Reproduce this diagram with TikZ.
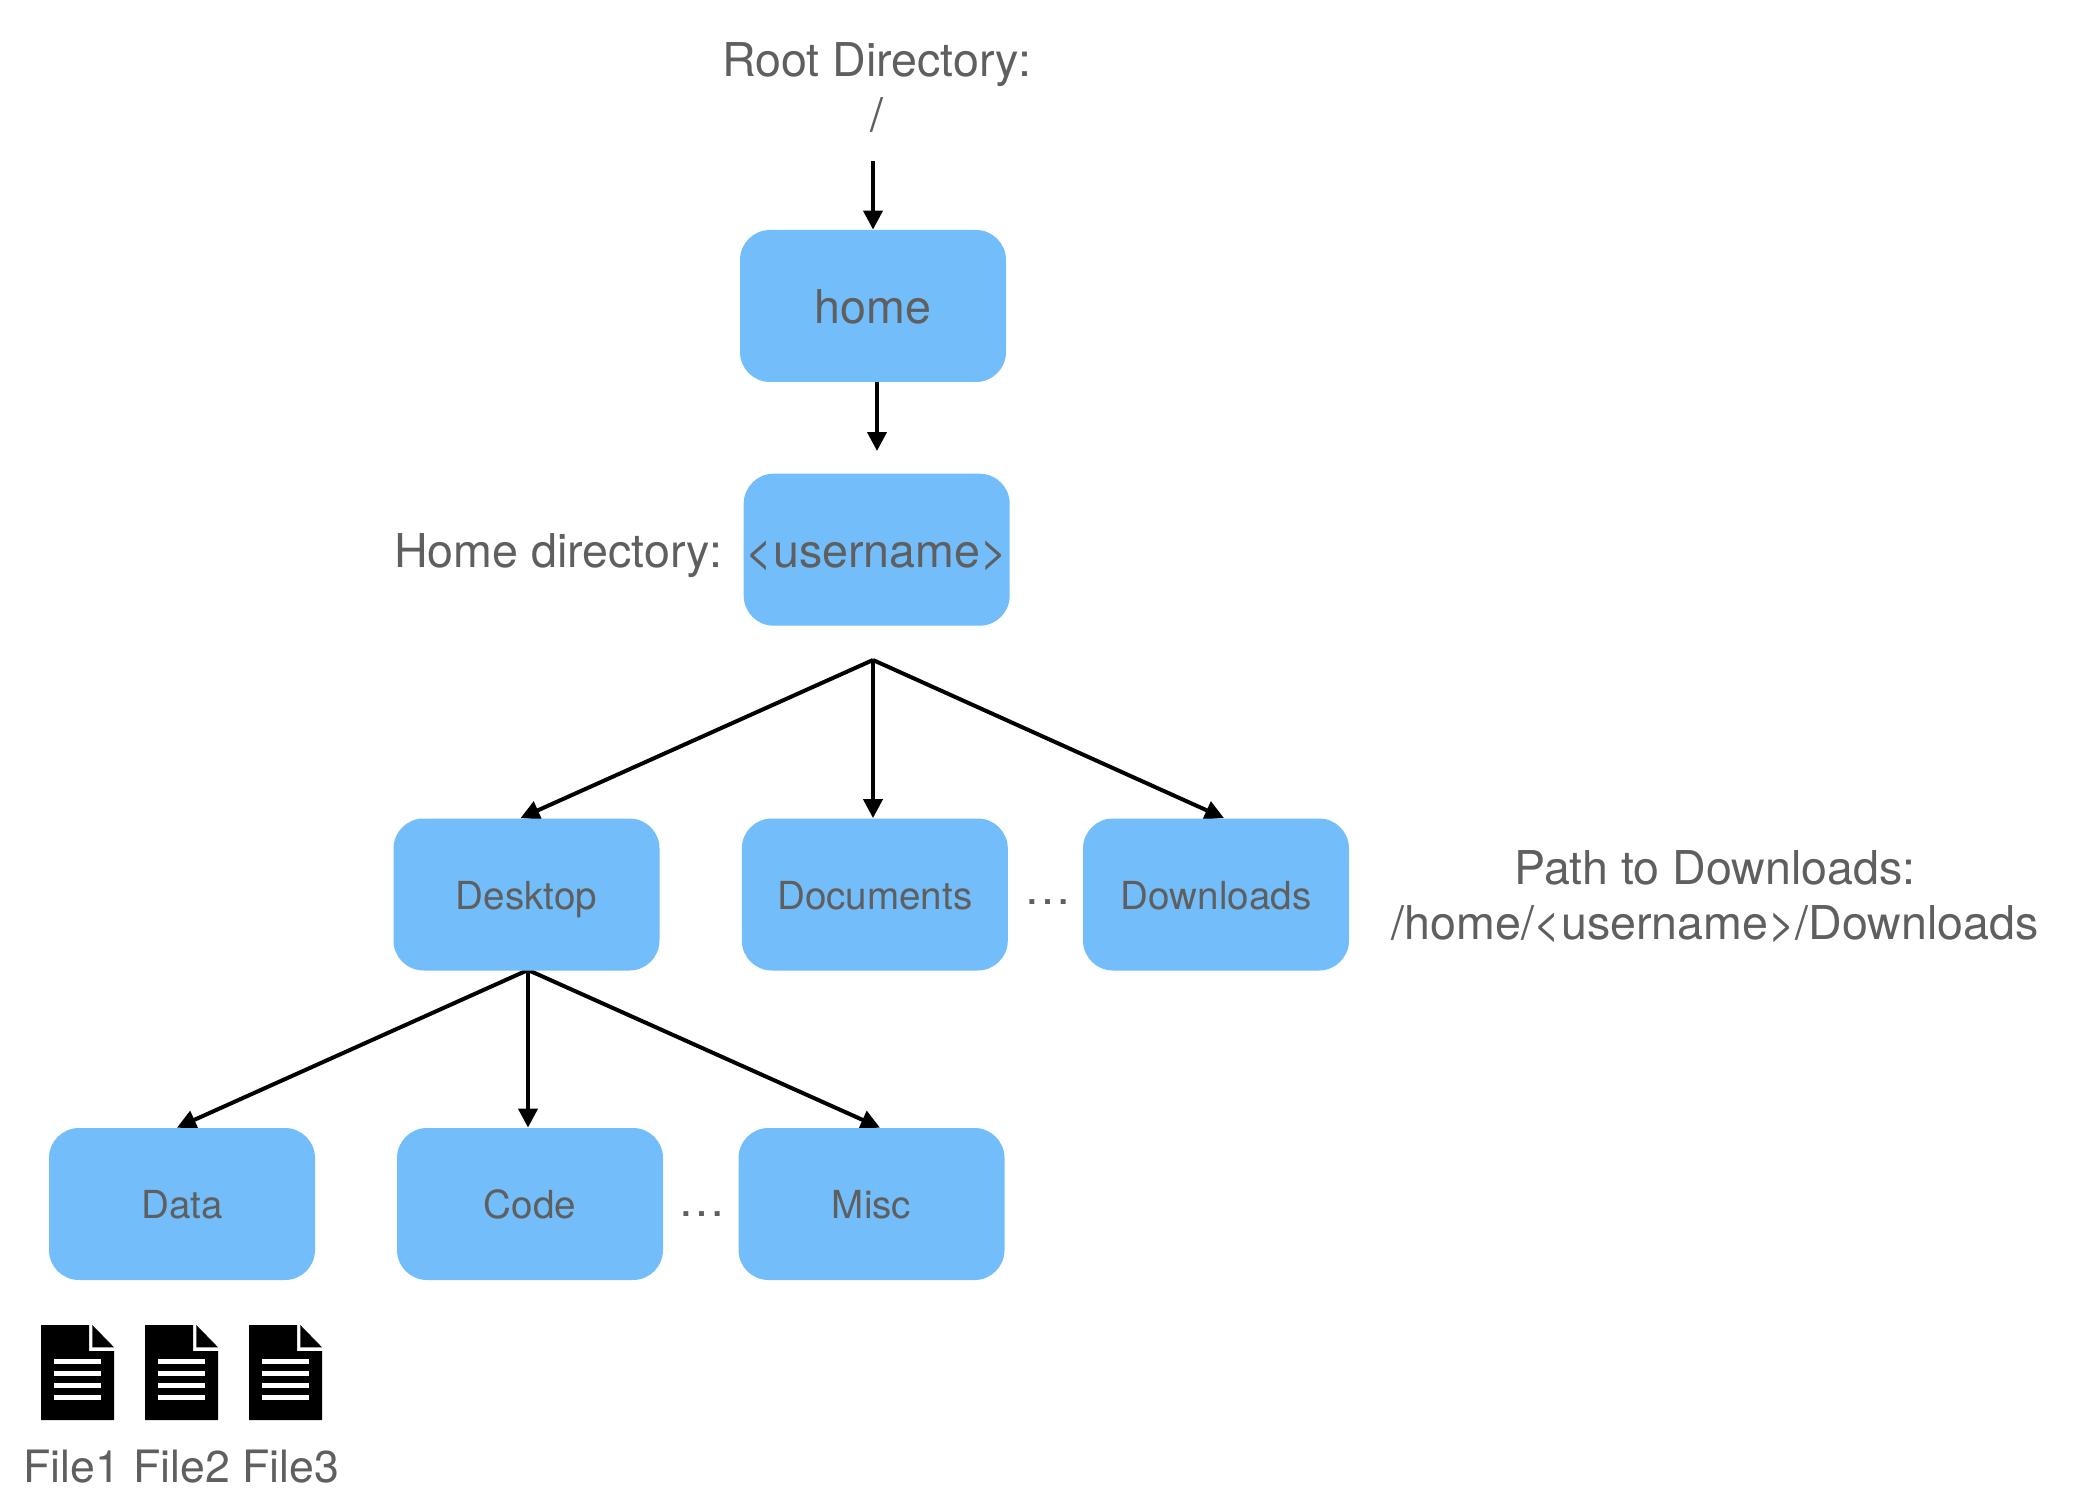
\documentclass[tikz,border=0pt]{standalone}
\usepackage{fontspec}
\setmainfont{TeX Gyre Heros}
\usetikzlibrary{arrows.meta,backgrounds}
\definecolor{boxblue}{HTML}{72BDFA}
\definecolor{labelgrey}{HTML}{5F5F5F}
\tikzset{
  x=0.5pt,y=-0.5pt,
  folder/.style={fill=boxblue,rounded corners=15pt,inner sep=0pt,minimum width=133pt,minimum height=76pt,text=labelgrey,align=center},
  bigfolder/.style={folder,font=\fontsize{23.3pt}{27pt}\selectfont,text height=18pt,text depth=0pt},
  smallfolder/.style={folder,font=\fontsize{19.3pt}{23pt}\selectfont,text height=14.8pt,text depth=0pt},
  label/.style={text=labelgrey,inner sep=0pt,anchor=base,font=\fontsize{23.3pt}{27pt}\selectfont},
  filelabel/.style={label,font=\fontsize{22.3pt}{27pt}\selectfont},
  dotsstyle/.style={label,font=\fontsize{23.5pt}{27pt}\selectfont},
  link/.style={draw=black,line width=2pt,-{Triangle[length=9.5pt,width=9.5pt]}},
  filesheet/.pic={
    \fill[black] (0,0) -- (48,0) -- (48,26) -- (73,26) -- (73,95) -- (0,95) -- cycle;
    \fill[black] (51.3,0) -- (73,22.3) -- (51.3,22.3) -- cycle;
    \foreach \yy in {36.7,48.3,60.3,72.3}
      \fill[white] (13,\yy-2.4) rectangle (60,\yy+2.4);
  }
}
\begin{document}
\begin{tikzpicture}
\useasboundingbox (0,0) rectangle (2092,1508);
% folders
\node[bigfolder] (home) at (873,306) {home};
\node[bigfolder] (user) at (876.7,549.7) {<username>};
\node[smallfolder] (desktop) at (526.5,894.5) {Desktop};
\node[smallfolder] (documents) at (874.8,894.5) {Documents};
\node[smallfolder] (downloads) at (1216,894.5) {Downloads};
\node[smallfolder] (data) at (182,1204) {Data};
\node[smallfolder] (code) at (530,1204) {Code};
\node[smallfolder] (misc) at (871.5,1204) {Misc};
% labels
\node[label] (rootlabel) at (876.5,77) {Root Directory:};
\node[label] (rootslash) at (876.5,132) {/};
\node[label] (homelabel) at (558,567) {Home directory:};
\node[label] (pathlabel) at (1715,884) {Path to Downloads:};
\node[label] (pathvalue) at (1715,939) {/home/<username>/Downloads};
\node[dotsstyle] (dotsa) at (1048,904) {…};
\node[dotsstyle] (dotsb) at (702,1216) {…};
\node[filelabel] (fileone) at (71.5,1482) {File1};
\node[filelabel] (filetwo) at (182,1482) {File2};
\node[filelabel] (filethree) at (291,1482) {File3};
% icons
\pic at (41,1325) {filesheet};
\pic at (145,1325) {filesheet};
\pic at (249,1325) {filesheet};
% connector ends
\coordinate (rootstart) at (873,161);
\coordinate (homeout) at (877,381);
\coordinate (userin) at (877,451);
\coordinate (userfork) at (873,660);
\coordinate (desktopfork) at (528,970);
\begin{scope}[on background layer]
\draw[link] (rootstart) -- (home.north);
\draw[link] (homeout) -- (userin);
\draw[link] (userfork) -- ([xshift=-3pt]desktop.north);
\draw[link] (userfork) -- ([xshift=-0.9pt]documents.north);
\draw[link] (userfork) -- ([xshift=4pt]downloads.north);
\draw[link] (desktopfork) -- ([xshift=-2.5pt]data.north);
\draw[link] (desktopfork) -- ([xshift=-1pt]code.north);
\draw[link] (desktopfork) -- ([xshift=4.2pt]misc.north);
\end{scope}
\end{tikzpicture}
\end{document}
